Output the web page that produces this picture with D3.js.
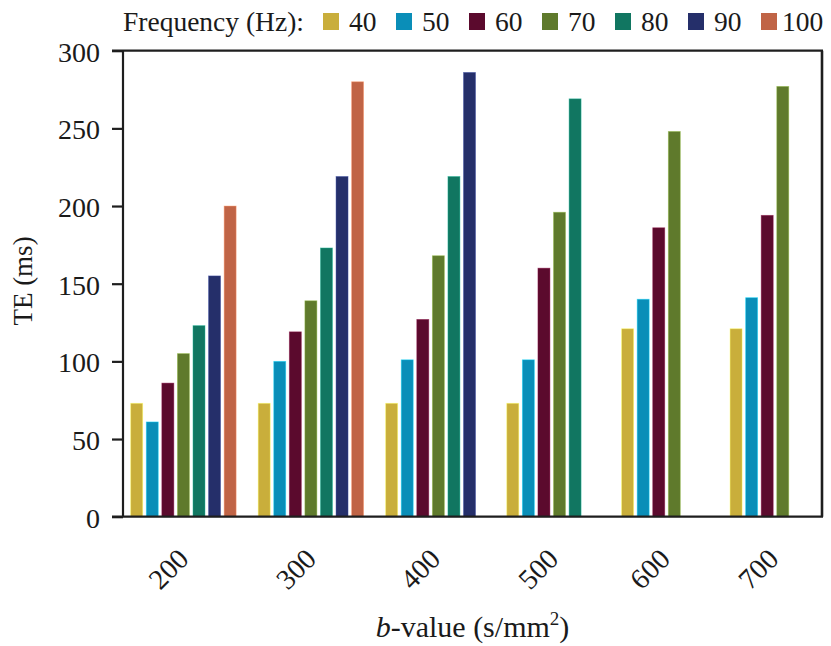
<!DOCTYPE html>
<html>
<head>
<meta charset="utf-8">
<script src="https://cdn.jsdelivr.net/npm/d3@7"></script>
<style>
  html, body { margin: 0; padding: 0; background: #fff; }
  svg { display: block; }
  text { font-family: "Liberation Serif", "Times New Roman", serif; fill: #1a1a1a; }
</style>
</head>
<body>
<svg id="chart" width="831" height="646"></svg>
<script>
// b-values (s/mm²) on the x axis
const categories = ["200", "300", "400", "500", "600", "700"];
// vibration frequencies (Hz), one bar series each
const frequencies = ["40", "50", "60", "70", "80", "90", "100"];
// TE (ms) per b-value for each frequency; null = not reached
const te40  = [73, 73, 73, 73, 121, 121];
const te50  = [61, 100, 101, 101, 140, 141];
const te60  = [86, 119, 127, 160, 186, 194];
const te70  = [105, 139, 168, 196, 248, 277];
const te80  = [123, 173, 219, 269, null, null];
const te90  = [155, 219, 286, null, null, null];
const te100 = [200, 280, null, null, null, null];
const yTicks = [0, 50, 100, 150, 200, 250, 300];

const series = [te40, te50, te60, te70, te80, te90, te100];
const colors = ["#c9ae3b", "#0a8eb8", "#5b0a2d", "#5f7a2c", "#117661", "#252f6a", "#c06446"];

const svg = d3.select("#chart");
const plot = { left: 123, right: 822, top: 50.7, bottom: 516.7 };

// Slot layout: a present bar takes a full slot, a missing one a narrower slot,
// and groups are separated by a gap.
const ABSENT_SLOT = 0.593, GAP = 1.187, PAD_L = 0.38, PAD_R = 0.24, INSET = 0.115;
const slots = [];
const groupCenters = [];
let cursor = PAD_L;
categories.forEach((cat, ci) => {
  const start = cursor;
  frequencies.forEach((f, fi) => {
    const v = series[fi][ci];
    if (v != null) {
      slots.push({ cat, ci, fi, value: v, u: cursor });
      cursor += 1;
    } else {
      cursor += ABSENT_SLOT;
    }
  });
  groupCenters.push((start + cursor) / 2);
  if (ci < categories.length - 1) cursor += GAP;
});
const totalUnits = cursor + PAD_R;

const x = d3.scaleLinear().domain([0, totalUnits]).range([plot.left, plot.right]);
const y = d3.scaleLinear().domain([0, 300]).range([plot.bottom, plot.top]);
const color = d3.scaleOrdinal(frequencies, colors);

// bars
svg.append("g").selectAll("rect")
  .data(slots)
  .join("rect")
  .attr("x", d => x(d.u + INSET))
  .attr("width", x(1 - 2 * INSET) - x(0))
  .attr("y", d => y(d.value))
  .attr("height", d => y(0) - y(d.value))
  .attr("fill", d => color(frequencies[d.fi]))
  .attr("stroke", d => d3.color(color(frequencies[d.fi])).brighter(1.2))
  .attr("stroke-opacity", 0.55)
  .attr("stroke-width", 0.8);

// y axis
const yAxis = svg.append("g")
  .attr("transform", `translate(${plot.left},0)`)
  .call(d3.axisLeft(y).tickValues(yTicks).tickSize(11).tickPadding(12).tickSizeOuter(0));
yAxis.select(".domain").remove();
yAxis.selectAll(".tick line").attr("stroke", "#1e1e1e").attr("stroke-width", 2.2);
yAxis.selectAll(".tick text")
  .attr("font-size", 28)
  .attr("font-family", "Liberation Serif, serif")
  .attr("fill", "#1a1a1a")
  .attr("dy", "0.37em");

// frame
const frame = svg.append("g").attr("stroke", "#1e1e1e").attr("stroke-width", 2.2).attr("fill", "none");
frame.append("line").attr("x1", plot.left).attr("x2", plot.left).attr("y1", plot.top).attr("y2", plot.bottom);
frame.append("line").attr("x1", plot.left - 11).attr("x2", plot.right + 1).attr("y1", plot.bottom).attr("y2", plot.bottom);
frame.append("line").attr("x1", plot.left - 11).attr("x2", plot.right + 1).attr("y1", plot.top).attr("y2", plot.top);
frame.append("line").attr("x1", plot.right).attr("x2", plot.right).attr("y1", plot.top).attr("y2", plot.bottom).attr("stroke-width", 2.6);

// x tick labels, rotated
svg.append("g").selectAll("text")
  .data(categories)
  .join("text")
  .attr("transform", (d, i) => `translate(${x(groupCenters[i]) + 7},${plot.bottom + 44}) rotate(-45)`)
  .attr("text-anchor", "end")
  .attr("font-size", 28.5)
  .text(d => d);

// axis titles
svg.append("text")
  .attr("transform", `translate(32,281) rotate(-90)`)
  .attr("text-anchor", "middle")
  .attr("font-size", 27)
  .text("TE (ms)");

const xt = svg.append("text")
  .attr("x", (plot.left + plot.right) / 2)
  .attr("y", 637)
  .attr("text-anchor", "middle")
  .attr("font-size", 30);
xt.append("tspan").attr("font-style", "italic").text("b");
xt.append("tspan").text("-value (s/mm");
xt.append("tspan").attr("font-size", 19).attr("dy", -12).text("2");
xt.append("tspan").attr("dy", 12).text(")");

// legend
const legend = svg.append("g");
legend.append("text")
  .attr("x", 123).attr("y", 30.5)
  .attr("font-size", 27.5)
  .text("Frequency (Hz):");
const lx = d3.scalePoint().domain(frequencies).range([323, 323 + 73 * 6]);
const items = legend.selectAll("g.item").data(frequencies).join("g")
  .attr("class", "item")
  .attr("transform", d => `translate(${lx(d)},0)`);
items.append("rect")
  .attr("x", 0).attr("y", 13).attr("width", 16).attr("height", 17)
  .attr("fill", d => color(d));
items.append("text")
  .attr("x", d => d === "100" ? 21 : 26).attr("y", 30.5)
  .attr("font-size", 27.5)
  .text(d => d);
</script>
</body>
</html>
